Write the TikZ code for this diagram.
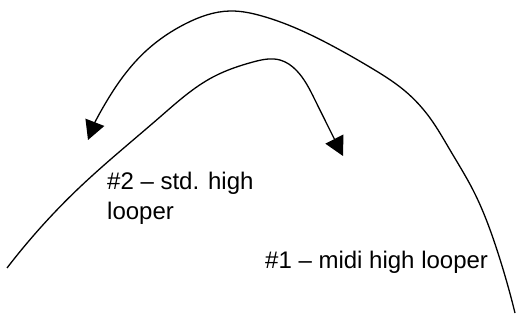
\documentclass[tikz,border=0pt]{standalone}
\usepackage{fontspec}
\setmainfont{Liberation Sans}
\usetikzlibrary{arrows.meta,hobby}
\begin{document}
\begin{tikzpicture}[x=1pt,y=-1pt,
  curve/.style={line width=1.3pt, line join=round, -{Triangle[length=19pt,width=20pt]}},
  lbl/.style={font=\fontsize{24}{30}\selectfont, inner sep=0pt, align=left}]
\useasboundingbox (0,0) rectangle (519,320);
\coordinate (a0) at (7,268);
\coordinate (a1) at (343,156);
\coordinate (b0) at (515,313);
\coordinate (b1) at (88,140);
\draw[curve, use Hobby shortcut] (a0) .. (80,187) .. (160,117) .. (213,77) .. (253,62) .. (280,60) .. (297,71) .. (315,100) .. (a1);
\draw[curve, use Hobby shortcut] (b0) .. (497,250) .. (473,190) .. (450,150) .. (430,118) .. (405,91) .. (373,69) .. (340,50) .. (262,16) .. (230,11) .. (185,24) .. (147,50) .. (115,88) .. (b1);
\node[lbl, anchor=base west] (t2) at (107,220) {\#2 – std. high\\looper};
\node[lbl, anchor=base west] (t1) at (265,269) {\#1 – midi high looper};
\end{tikzpicture}
\end{document}
